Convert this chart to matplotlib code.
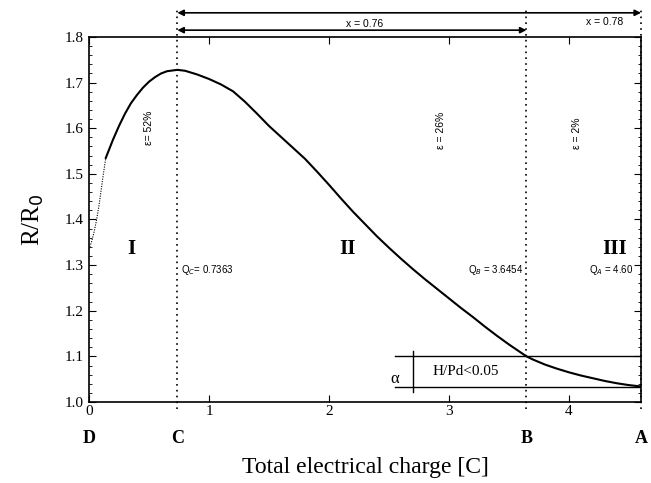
import matplotlib.pyplot as plt
from matplotlib.ticker import MultipleLocator

# dotted start of the curve (region D-C, before solid line)
x_dot = [0.0, 0.02, 0.04, 0.06, 0.08, 0.10, 0.12, 0.14]
y_dot = [1.335, 1.35, 1.37, 1.395, 1.425, 1.462, 1.50, 1.535]

# solid curve R/R0 vs total charge
x_sol = [0.14, 0.2, 0.25, 0.3, 0.35, 0.4, 0.45, 0.5, 0.55, 0.6, 0.65, 0.7363,
         0.8, 0.9, 1.0, 1.1, 1.2, 1.3, 1.4, 1.5, 1.6, 1.7, 1.8, 1.9, 2.0,
         2.1, 2.2, 2.3, 2.4, 2.5, 2.6, 2.7, 2.8, 2.9, 3.0, 3.1, 3.2, 3.3,
         3.4, 3.5, 3.6454, 3.7, 3.8, 3.9, 4.0, 4.1, 4.2, 4.3, 4.4, 4.5, 4.6]
y_sol = [1.535, 1.575, 1.605, 1.632, 1.655, 1.673, 1.689, 1.702, 1.712,
         1.72, 1.725, 1.728, 1.726, 1.718, 1.708, 1.696, 1.681, 1.658, 1.632,
         1.605, 1.581, 1.557, 1.533, 1.505, 1.476, 1.446, 1.417, 1.39,
         1.363, 1.338, 1.314, 1.291, 1.269, 1.248, 1.227, 1.206, 1.186,
         1.165, 1.145, 1.126, 1.10, 1.093, 1.082, 1.073, 1.065, 1.058,
         1.052, 1.046, 1.041, 1.037, 1.034]

# special charges
q_points = {"C": 0.7363, "B": 3.6454, "A": 4.60}
q_labels = ["C", "B", "A"]
eps_text = ["\u03b5= 52%", "\u03b5 = 26%", "\u03b5 = 2%"]
eps_x = [0.5, 2.93, 4.07]
eps_y = [1.6, 1.595, 1.59]
regions = ["I", "II", "III"]
region_x = [0.35, 2.15, 4.38]

serif = "Liberation Serif"
sans = "Liberation Sans"

fig = plt.figure(figsize=(6.51, 4.83), dpi=100)
ax = fig.add_axes([0.1367, 0.1677, 0.848, 0.7557])

ax.plot(x_dot, y_dot, color="black", lw=0.8, ls=(0, (1, 1.2)))
ax.plot(x_sol, y_sol, color="black", lw=1.5)

ax.set_xlim(0, 4.6)
ax.set_ylim(1.0, 1.8)
ax.xaxis.set_major_locator(MultipleLocator(1))
ax.yaxis.set_major_locator(MultipleLocator(0.1))
ax.yaxis.set_minor_locator(MultipleLocator(0.02))
ax.tick_params(which="both", direction="in", top=True, right=True)
ax.tick_params(which="major", length=5, labelsize=11)
ax.tick_params(which="minor", length=2.5)
ax.tick_params(axis="x", pad=2)
for lab in ax.get_xticklabels() + ax.get_yticklabels():
    lab.set_fontfamily(serif)
ax.yaxis.set_major_formatter(plt.FuncFormatter(lambda v, p: f"{v:.1f}"))
ax.xaxis.set_major_formatter(plt.FuncFormatter(lambda v, p: f"{v:.0f}"))
for s in ax.spines.values():
    s.set_linewidth(1.2)

ax.set_xlabel("Total electrical charge [C]", fontfamily=serif, fontsize=17,
              labelpad=28)
ax.set_ylabel("R/R$_0$", fontfamily=serif, fontsize=18, labelpad=14)

# vertical dotted lines at C, B, A going above the axes
for q in q_points.values():
    ax.plot([q, q], [0.985, 1.865], color="black", lw=1.2, ls=(0, (1, 2.5)),
            clip_on=False)

# letters below the axis
ax.text(0, -0.1, "D", transform=ax.get_xaxis_transform(), ha="center",
        va="center", fontfamily=serif, fontsize=13, fontweight="bold")
for name in q_labels:
    ax.text(q_points[name], -0.1, name, transform=ax.get_xaxis_transform(),
            ha="center", va="center", fontfamily=serif, fontsize=13,
            fontweight="bold")

# arrows at the top
arr = dict(arrowstyle="<|-|>", color="black", lw=1.2, mutation_scale=9,
           shrinkA=0, shrinkB=0)
ax.annotate("", xy=(q_points["C"], 1.853), xytext=(q_points["A"], 1.853),
            arrowprops=arr, annotation_clip=False)
ax.annotate("", xy=(q_points["C"], 1.815), xytext=(q_points["B"], 1.815),
            arrowprops=arr, annotation_clip=False)
ax.text(2.3, 1.828, "x = 0.76", ha="center", va="center", fontfamily=sans,
        fontsize=7.5)
ax.text(4.3, 1.832, "x = 0.78", ha="center", va="center", fontfamily=sans,
        fontsize=7.5)

# region numerals
for rx, r in zip(region_x, regions):
    ax.text(rx, 1.335, r, ha="center", va="center", fontfamily=serif,
            fontsize=15, fontweight="bold")

# Q labels
ax.text(q_points["C"] + 0.03, 1.29, "Q$_C$= 0.7363", ha="left", va="center",
        fontfamily=sans, fontsize=7)
ax.text(q_points["B"] - 0.03, 1.29, "Q$_B$ = 3.6454", ha="right", va="center",
        fontfamily=sans, fontsize=7)
ax.text(q_points["A"] - 0.06, 1.29, "Q$_A$ = 4.60", ha="right", va="center",
        fontfamily=sans, fontsize=7)

# epsilon labels
for ex, ey, t in zip(eps_x, eps_y, eps_text):
    ax.text(ex, ey, t, rotation=90, ha="center", va="center",
            fontfamily=sans, fontsize=7.5)

# H/Pd band
ax.plot([2.55, 4.6], [1.1, 1.1], color="black", lw=1.0)
ax.plot([2.55, 4.6], [1.032, 1.032], color="black", lw=1.0)
ax.plot([2.7, 2.7], [1.112, 1.022], color="black", lw=1.0)
ax.text(2.86, 1.066, "H/Pd<0.05", ha="left", va="center", fontfamily=serif,
        fontsize=11)
ax.text(2.55, 1.05, "\u03b1", ha="center", va="center", fontfamily=serif,
        fontsize=12)

fig.savefig("out.png", dpi=100)
